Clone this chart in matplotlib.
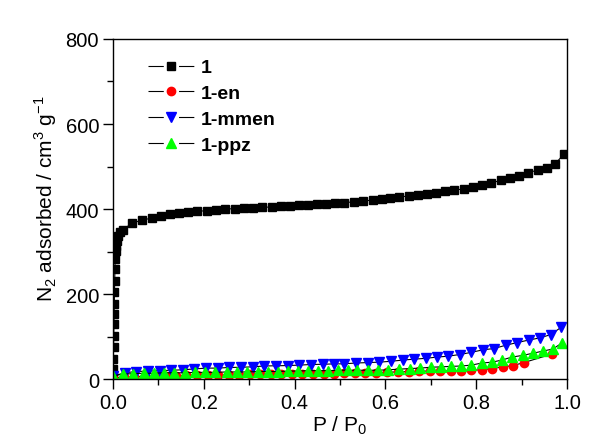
import matplotlib
matplotlib.use("Agg")
import matplotlib.pyplot as plt
from matplotlib.ticker import MultipleLocator, FormatStrFormatter
from matplotlib.legend_handler import HandlerLine2D

plt.rcParams['font.family'] = ['Liberation Sans', 'DejaVu Sans']
plt.rcParams['mathtext.fontset'] = 'custom'
plt.rcParams['mathtext.rm'] = 'Liberation Sans'
plt.rcParams['lines.scale_dashes'] = False

# series "1"
x_1 = [0.0003, 0.0006, 0.001, 0.0014, 0.0018, 0.0022, 0.0026, 0.003, 0.0035, 0.004,
       0.0045, 0.005, 0.006, 0.007, 0.009, 0.012, 0.016, 0.022, 0.042, 0.065,
       0.086, 0.106, 0.126, 0.146, 0.166, 0.186, 0.207, 0.227, 0.247, 0.268,
       0.288, 0.309, 0.329, 0.35, 0.37, 0.39, 0.41, 0.43, 0.45, 0.47,
       0.49, 0.51, 0.53, 0.55, 0.572, 0.593, 0.61, 0.63, 0.652, 0.672,
       0.692, 0.711, 0.731, 0.751, 0.773, 0.793, 0.813, 0.833, 0.855, 0.874,
       0.894, 0.914, 0.936, 0.956, 0.974, 0.993]
y_1 = [5, 23, 47, 75, 101, 129, 153, 176, 205, 231,
       259, 282, 301, 313, 325, 336, 345, 351, 367, 374,
       379, 384, 388, 391, 393, 395, 396, 398, 400, 401,
       402, 403, 404, 405, 407, 408, 409, 410, 412, 413,
       414, 415, 417, 419, 421, 424, 426, 428, 431, 433,
       435, 438, 442, 445, 447, 452, 456, 461, 468, 473,
       478, 485, 492, 496, 506, 529]

# series "1-en"
x_en = [0.0, 0.024, 0.047, 0.07, 0.093, 0.116, 0.139, 0.162, 0.186, 0.209,
        0.232, 0.255, 0.278, 0.301, 0.325, 0.348, 0.371, 0.394, 0.417, 0.44,
        0.464, 0.487, 0.51, 0.533, 0.556, 0.58, 0.604, 0.628, 0.652,
        0.674, 0.698, 0.72, 0.744, 0.767, 0.789, 0.813, 0.835, 0.859, 0.881,
        0.905, 0.967]
y_en = [3, 5, 6, 7, 7, 8, 8, 9, 9, 9,
        10, 10, 10, 11, 11, 11, 12, 12, 12, 13,
        13, 13, 14, 14, 15, 15, 16.5, 17, 18,
        19, 19, 19, 20, 20, 21, 22, 25, 29, 32,
        39, 59]

# series "1-mmen"
x_mmen = [0.0, 0.026, 0.051, 0.077, 0.103, 0.128, 0.154, 0.179, 0.205, 0.231,
          0.256, 0.282, 0.308, 0.333, 0.359, 0.385, 0.41, 0.436, 0.463, 0.487,
          0.509, 0.535, 0.562, 0.586, 0.612, 0.639, 0.663, 0.689, 0.714, 0.738,
          0.764, 0.789, 0.815, 0.839, 0.866, 0.89, 0.916, 0.94, 0.965, 0.987]
y_mmen = [7, 15, 18, 19, 20, 21, 22, 24, 26, 26,
          27.5, 28, 29, 31, 31.5, 32, 33, 34.5, 35, 36,
          36, 38, 39, 40, 42, 45, 47, 49, 52, 54,
          58, 63, 69, 72, 80, 86, 92, 97, 105, 122]

# series "1-ppz"
x_ppz = [0.0, 0.023, 0.045, 0.068, 0.09, 0.113, 0.135, 0.158, 0.18, 0.203,
         0.225, 0.251, 0.273, 0.295, 0.319, 0.341, 0.363, 0.385, 0.407, 0.429,
         0.452, 0.474, 0.496, 0.518, 0.537, 0.561, 0.583,
         0.606, 0.63, 0.654, 0.676, 0.7, 0.722, 0.744, 0.767, 0.789, 0.813,
         0.835, 0.857, 0.879, 0.903, 0.925, 0.947, 0.969, 0.989]
y_ppz = [8, 12, 13, 14, 14, 15, 15, 15, 16, 16,
         16, 17, 17, 17, 18, 18, 18, 19, 19, 20,
         20, 20, 21, 21, 21, 21, 21,
         22, 23.5, 25, 26, 28, 29, 30, 31, 33, 38,
         40, 45, 52, 56, 61, 66, 71, 85]

fig = plt.figure(figsize=(6.07, 4.39), dpi=100)
ax = fig.add_axes([0.186, 0.134, 0.748, 0.775])

lw = 0.8
ax.plot(x_1, y_1, color='black', lw=lw, marker='s', ms=5.5, mfc='black', mec='black', label='1')
ax.plot(x_en, y_en, color='black', lw=lw, marker='o', ms=6, mfc='#ff0000', mec='#ff0000', label='1-en')
ax.plot(x_mmen, y_mmen, color='black', lw=lw, marker='v', ms=7, mfc='#0000ff', mec='#0000ff', label='1-mmen')
ax.plot(x_ppz, y_ppz, color='black', lw=lw, marker='^', ms=7, mfc='#00ff00', mec='#00ff00', label='1-ppz')

ax.set_xlim(0, 1.0)
ax.set_ylim(0, 800)
ax.xaxis.set_major_locator(MultipleLocator(0.2))
ax.xaxis.set_minor_locator(MultipleLocator(0.1))
ax.yaxis.set_major_locator(MultipleLocator(200))
ax.yaxis.set_minor_locator(MultipleLocator(100))
ax.xaxis.set_major_formatter(FormatStrFormatter('%.1f'))
ax.tick_params(which='major', direction='out', length=7, width=1, labelsize=14.5, pad=3)
ax.tick_params(which='minor', direction='out', length=4, width=1)
for s in ax.spines.values():
    s.set_linewidth(1)

ax.set_xlabel('P / P$_0$', fontsize=15, labelpad=1)
ax.set_ylabel('N$_2$ adsorbed / cm$^3$ g$^{-1}$', fontsize=15)
ax.yaxis.set_label_coords(-0.118, 0.534)


# legend handles: line - gap - marker - gap - line
def split_line(legline, orig):
    legline.update_from(orig)
    legline.set_dashes((11, 11))


leg = ax.legend(loc='upper left', bbox_to_anchor=(0.039, 0.993), frameon=False,
                handlelength=2.36, handletextpad=0.37, labelspacing=0.42,
                prop={'weight': 'bold', 'size': 14},
                handler_map={plt.Line2D: HandlerLine2D(update_func=split_line)})

fig.savefig('out.png', dpi=100)
